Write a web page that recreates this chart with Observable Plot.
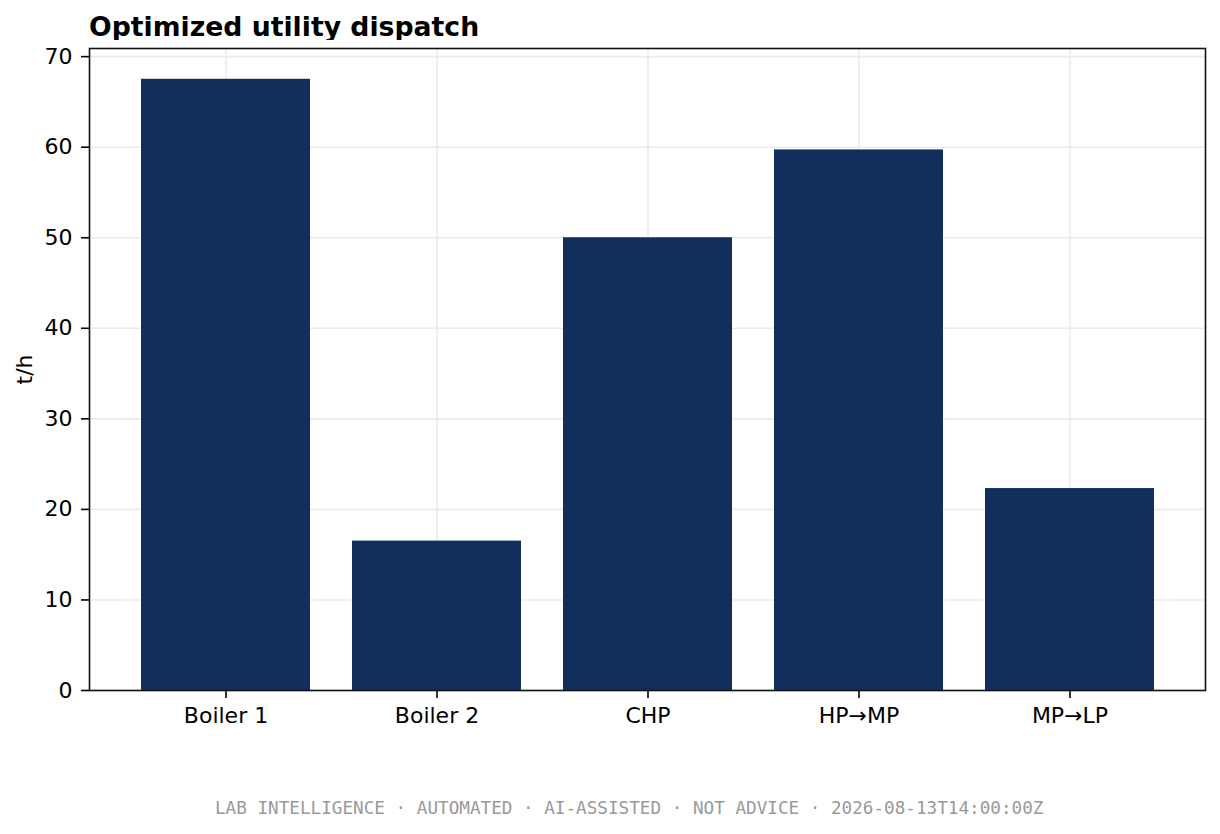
<!DOCTYPE html>
<html><head><meta charset="utf-8">
<script src="https://cdn.jsdelivr.net/npm/d3@7"></script>
<script src="https://cdn.jsdelivr.net/npm/@observablehq/plot@0.6"></script>
<style>
body{margin:0;background:#fff;font-family:"DejaVu Sans";}
#wrap{position:relative;width:1220px;height:834px;overflow:hidden}
#title{position:absolute;left:89px;top:14px;font:bold 26.7px/1 "DejaVu Sans";color:#000;white-space:nowrap}
#chart{position:absolute;left:0;top:40px}
#foot{position:absolute;left:215px;top:800px;font:17.65px/1 "DejaVu Sans Mono";color:#999;white-space:nowrap}
</style></head><body>
<div id="wrap">
<div id="title">Optimized utility dispatch</div>
<div id="chart"></div>
<div id="foot">LAB INTELLIGENCE · AUTOMATED · AI-ASSISTED · NOT ADVICE · 2026-08-13T14:00:00Z</div>
</div>
<script>
const categories = ["Boiler 1", "Boiler 2", "CHP", "HP→MP", "MP→LP"];
const values = [67.5, 16.5, 50.0, 59.7, 22.3];
const yTicks = [0, 10, 20, 30, 40, 50, 60, 70];

const data = categories.map((c, i) => ({unit: c, flow: values[i]}));

const chart = Plot.plot({
  width: 1220, height: 700,
  marginTop: 8, marginBottom: 50, marginLeft: 89, marginRight: 15,
  style: {fontFamily: "DejaVu Sans", fontSize: "22px", color: "#000", background: "#fff", overflow: "visible"},
  x: {domain: categories, paddingInner: 0.2, paddingOuter: 0.235, label: null},
  y: {domain: [0, 70.9], ticks: yTicks, label: "t/h"},
  marks: [
    Plot.gridX({stroke: "#ebebeb", strokeOpacity: 1, strokeWidth: 1.6}),
    Plot.gridY(yTicks, {stroke: "#ebebeb", strokeOpacity: 1, strokeWidth: 1.6}),
    Plot.barY(data, {x: "unit", y: "flow", fill: "#112f5c"}),
    Plot.axisX({tickSize: 8, tickPadding: 9, fontSize: 22, label: null, strokeWidth: 1.6}),
    Plot.axisY(yTicks, {tickSize: 8, tickPadding: 9, fontSize: 22, strokeWidth: 1.6, label: "t/h", labelAnchor: "center", labelArrow: "none", labelOffset: 73}),
    Plot.frame({stroke: "#111", strokeWidth: 1.6})
  ]
});
document.getElementById("chart").appendChild(chart);
</script>
</body></html>
